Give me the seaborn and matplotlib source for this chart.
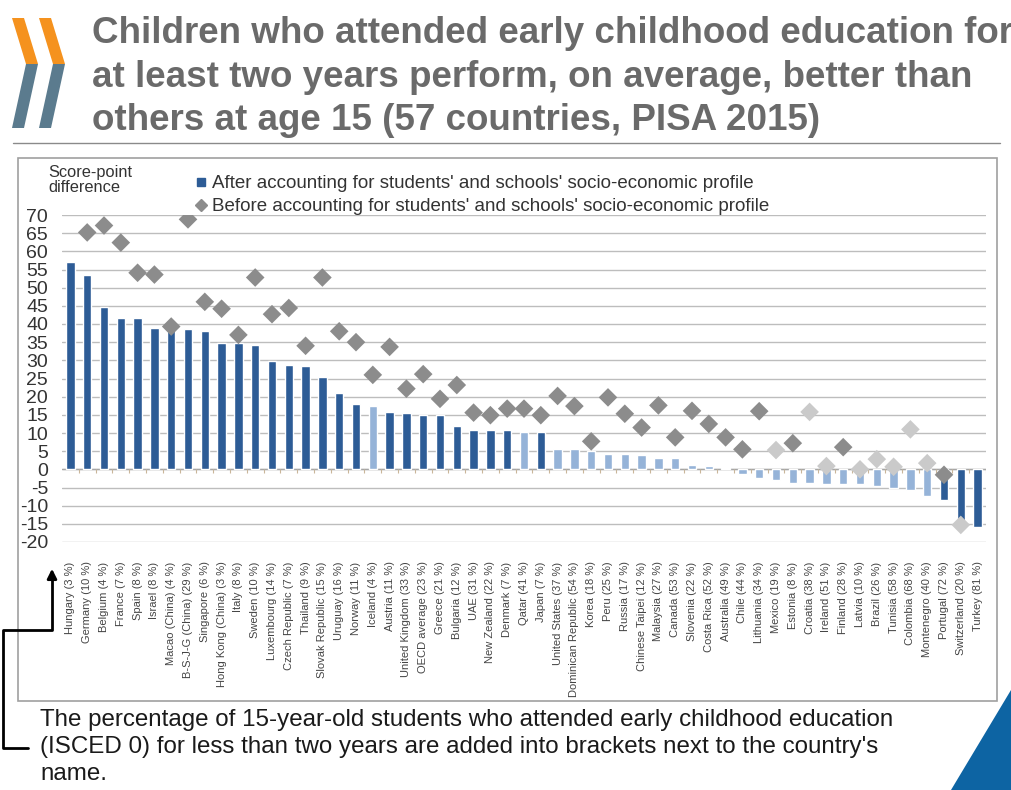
import numpy as np
import matplotlib
matplotlib.use("Agg")
import matplotlib.pyplot as plt
import seaborn as sns
from matplotlib.patches import Polygon, Rectangle
from matplotlib.lines import Line2D

# countries with share (%) of students who attended ECEC for less than two years
countries = [
    "Hungary (3 %)", "Germany (10 %)", "Belgium (4 %)", "France (7 %)", "Spain (8 %)",
    "Israel (8 %)", "Macao (China) (4 %)", "B-S-J-G (China) (29 %)", "Singapore (6 %)",
    "Hong Kong (China) (3 %)", "Italy (8 %)", "Sweden (10 %)", "Luxembourg (14 %)",
    "Czech Republic (7 %)", "Thailand (9 %)", "Slovak Republic (15 %)", "Uruguay (16 %)",
    "Norway (11 %)", "Iceland (4 %)", "Austria (11 %)", "United Kingdom (33 %)",
    "OECD average (23 %)", "Greece (21 %)", "Bulgaria (12 %)", "UAE (31 %)",
    "New Zealand (22 %)", "Denmark (7 %)", "Qatar (41 %)", "Japan (7 %)",
    "United States (37 %)", "Dominican Republic (54 %)", "Korea (18 %)", "Peru (25 %)",
    "Russia (17 %)", "Chinese Taipei (12 %)", "Malaysia (27 %)", "Canada (53 %)",
    "Slovenia (22 %)", "Costa Rica (52 %)", "Australia (49 %)", "Chile (44 %)",
    "Lithuania (34 %)", "Mexico (19 %)", "Estonia (8 %)", "Croatia (38 %)",
    "Ireland (51 %)", "Finland (28 %)", "Latvia (10 %)", "Brazil (26 %)",
    "Tunisia (58 %)", "Colombia (68 %)", "Montenegro (40 %)", "Portugal (72 %)",
    "Switzerland (20 %)", "Turkey (81 %)",
]

# score-point difference after accounting for socio-economic profile (bars)
after = [
    57.0, 53.5, 44.8, 41.6, 41.6, 38.9, 38.9, 38.5, 38.0, 34.9,
    34.7, 34.3, 29.8, 28.8, 28.5, 25.4, 21.0, 18.1, 17.4, 15.8,
    15.4, 15.0, 15.0, 12.0, 10.8, 10.8, 10.8, 10.4, 10.4, 5.7,
    5.7, 5.0, 4.1, 4.1, 3.9, 3.2, 3.0, 1.1, 0.9, 0.5,
    -1.3, -2.4, -3.0, -3.8, -3.8, -3.9, -3.9, -4.1, -4.5, -5.0,
    -5.7, -7.4, -8.4, -14.9, -16.0,
]
after_sig = [
    "sig"] * 18 + ["ns"] + ["sig"] * 8 + ["ns", "sig"] + ["ns"] * 23 + ["sig"] * 3

# score-point difference before accounting for socio-economic profile (diamonds)
before = [
    np.nan, 65.2, 67.1, 62.4, 54.1, 53.6, 39.3, 68.8, 46.1, 44.2,
    37.0, 52.8, 42.7, 44.4, 34.0, 52.8, 38.0, 35.0, 26.0, 33.7,
    22.2, 26.2, 19.4, 23.2, 15.6, 14.9, 16.7, 16.7, 14.9, 20.2,
    17.4, 7.7, 19.8, 15.3, 11.5, 17.6, 8.8, 16.1, 12.5, 8.8,
    5.5, 16.0, 5.3, 7.2, 15.8, 0.9, 6.1, 0.0, 2.8, 0.7,
    11.0, 1.7, -1.5, -15.3, np.nan,
]
before_sig = (["sig"] * 42 + ["ns", "sig", "ns", "ns", "sig"]
              + ["ns"] * 5 + ["sig", "ns", "ns"])

yticks = list(range(-20, 71, 5))

title_lines = [
    "Children who attended early childhood education for",
    "at least two years perform, on average, better than",
    "others at age 15 (57 countries, PISA 2015)",
]
note_lines = [
    "The percentage of 15-year-old students who attended early childhood education",
    "(ISCED 0) for less than two years are added into brackets next to the country's",
    "name.",
]

W, H = 1011, 790
sns.set_theme(style="white")
plt.rcParams["font.family"] = ["Liberation Sans", "DejaVu Sans"]

fig = plt.figure(figsize=(W / 100, H / 100), dpi=100)

# background overlay in pixel coordinates for decoration
bg = fig.add_axes([0, 0, 1, 1])
bg.set_xlim(0, W)
bg.set_ylim(H, 0)
bg.axis("off")

# logo chevrons
orange, slate = "#f5921e", "#5b7b8e"
for dx in (0, 27):
    bg.add_patch(Polygon([(12 + dx, 18), (24 + dx, 18), (38 + dx, 64), (26 + dx, 64)],
                         closed=True, color=orange, lw=0))
    bg.add_patch(Polygon([(26 + dx, 64), (38 + dx, 64), (24 + dx, 128), (12 + dx, 128)],
                         closed=True, color=slate, lw=0))

for line, yb in zip(title_lines, [43, 87, 130]):
    bg.text(92, yb, line, fontsize=26.5, fontweight="bold", color="#6a6a6a",
            va="baseline", ha="left")

bg.add_line(Line2D([13, 1000], [143, 143], color="#8a8a8a", lw=1))
bg.add_patch(Rectangle((18, 158), 979, 543, fill=False, ec="#a0a0a0", lw=1.2))

bg.text(48, 165, "Score-point\ndifference", fontsize=11.8, color="#333333",
        va="top", ha="left", linespacing=1.0)

# footnote bracket with arrow
bg.add_line(Line2D([52, 52, 3, 3, 28], [578, 630, 630, 748, 748], color="black", lw=2))
bg.annotate("", xy=(52, 566), xytext=(52, 582),
            arrowprops=dict(arrowstyle="-|>", color="black", lw=2, mutation_scale=14))

for line, yb in zip(note_lines, [726, 753, 780]):
    bg.text(40, yb, line, fontsize=17.4, color="#1a1a1a", va="baseline", ha="left")

bg.add_patch(Polygon([(1011, 690), (1011, 790), (951, 790)], closed=True,
                     color="#0d64a3", lw=0))

# main chart
ax = fig.add_axes([62 / W, 1 - 542 / H, 924 / W, 327 / H])
ax.set_facecolor("none")

sns.barplot(x=countries, y=after, hue=after_sig,
            palette={"sig": "#2d5c96", "ns": "#95b3d8"},
            dodge=False, width=0.5, saturation=1, legend=False, ax=ax, zorder=2)
sns.scatterplot(x=np.arange(len(countries)), y=before, hue=before_sig,
                palette={"sig": "#8c8c8c", "ns": "#cacaca"},
                marker="D", s=90, edgecolor="none", legend=False, ax=ax, zorder=3)

ax.set_xlim(-0.5, len(countries) - 0.5)
ax.set_ylim(-20, 70)
ax.set_yticks(yticks)
ax.set_yticklabels([str(v) for v in yticks])
ax.yaxis.grid(True, color="#bdbdbd", lw=1)
ax.set_axisbelow(True)
for s in ax.spines.values():
    s.set_visible(False)
ax.axhline(0, color="#a6a6a6", lw=1, zorder=1)
ax.vlines(np.arange(len(countries)) + 0.5, -0.9, 0, color="#c9b69a", lw=0.8, zorder=1)

ax.tick_params(axis="y", labelsize=14, length=5, width=1, pad=5,
               color="#a6a6a6", labelcolor="#333333")
ax.tick_params(axis="x", rotation=90, labelsize=8, length=0, pad=14,
               labelcolor="#444444")
ax.set_xlabel("")
ax.set_ylabel("")

handles = [
    Line2D([], [], marker="s", ls="none", color="#2d5c96", markersize=5.5),
    Line2D([], [], marker="D", ls="none", color="#8c8c8c", markersize=6),
]
fig.legend(handles,
           ["After accounting for students' and schools' socio-economic profile",
            "Before accounting for students' and schools' socio-economic profile"],
           loc="upper left", bbox_to_anchor=(186 / W, 1 - 166 / H), frameon=False,
           fontsize=13.5, handlelength=0.6, handletextpad=0.3, labelspacing=0.3,
           borderpad=0, labelcolor="#333333")

fig.savefig("out.png", dpi=100)
